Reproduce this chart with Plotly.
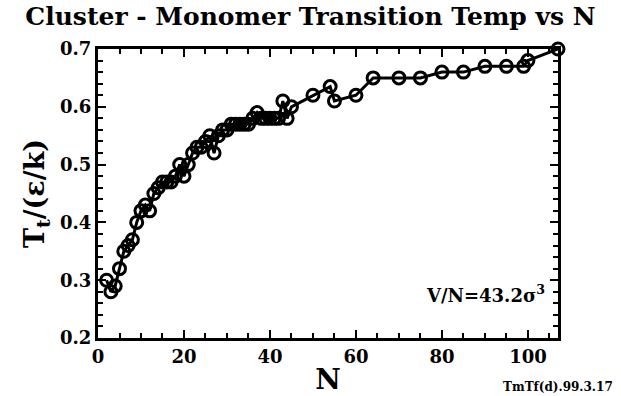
import plotly.graph_objects as go

# Cluster size and cluster-monomer transition temperature
n_atoms = [2, 3, 4, 5, 6, 7, 8, 9, 10, 11, 12, 13, 14, 15, 16, 17, 18, 19, 20,
           21, 22, 23, 24, 25, 26, 27, 28, 29, 30, 31, 32, 33, 34, 35, 36, 37,
           38, 39, 40, 41, 42, 43, 44, 45, 50, 54, 55, 60, 64, 70, 75, 80, 85,
           90, 95, 99, 100, 107]
t_trans = [0.30, 0.28, 0.29, 0.32, 0.35, 0.36, 0.37, 0.40, 0.42, 0.43, 0.42,
           0.45, 0.46, 0.47, 0.47, 0.47, 0.48, 0.50, 0.48, 0.50, 0.52, 0.53,
           0.53, 0.54, 0.55, 0.52, 0.55, 0.56, 0.56, 0.57, 0.57, 0.57, 0.57,
           0.57, 0.58, 0.59, 0.58, 0.58, 0.58, 0.58, 0.58, 0.61, 0.58, 0.60,
           0.62, 0.635, 0.61, 0.62, 0.65, 0.65, 0.65, 0.66, 0.66, 0.67, 0.67,
           0.67, 0.68, 0.70]

x_ticks = [0, 20, 40, 60, 80, 100]
y_ticks = [0.2, 0.3, 0.4, 0.5, 0.6, 0.7]

SERIF = "DejaVu Serif"

fig = go.Figure()
fig.add_trace(go.Scatter(
    x=n_atoms, y=t_trans, mode="lines+markers",
    line=dict(color="black", width=3),
    marker=dict(symbol="circle-open", size=12, color="black",
                line=dict(color="black", width=3)),
    cliponaxis=False, showlegend=False,
))

axis_common = dict(
    showgrid=False, zeroline=False, showline=True, linecolor="black",
    linewidth=3, mirror="allticks", ticks="inside", tickcolor="black",
    tickwidth=2, ticklen=8, automargin=False,
    tickfont=dict(family=SERIF, size=18, color="black", weight="bold"),
)

fig.update_xaxes(
    range=[0, 107], tickvals=x_ticks,
    minor=dict(dtick=5, tick0=0, ticks="inside", ticklen=5, tickwidth=2,
               tickcolor="black"),
    title=dict(text="N", font=dict(family=SERIF, size=28, color="black",
                                    weight="bold"), standoff=8),
    **axis_common,
)
fig.update_yaxes(
    range=[0.2, 0.7], tickvals=y_ticks, tickformat=".1f",
    minor=dict(dtick=0.02, tick0=0.2, ticks="inside", ticklen=5, tickwidth=2,
               tickcolor="black"),
    title=dict(text="T<sub>t</sub>/(ε/k)",
               font=dict(family=SERIF, size=27, color="black", weight="bold"),
               standoff=8),
    **axis_common,
)

fig.add_annotation(
    x=0.975, y=0.152, xref="paper", yref="paper", xanchor="right",
    yanchor="middle", showarrow=False,
    text="V/N=43.2σ<sup>3</sup>",
    font=dict(family=SERIF, size=18, color="black", weight="bold"),
)
fig.add_annotation(
    x=1.0, y=-0.14, xref="paper", yref="paper", xanchor="center",
    yanchor="top", showarrow=False,
    text="TmTf(d).99.3.17",
    font=dict(family=SERIF, size=12, color="black", weight="bold"),
)

fig.update_layout(
    width=621, height=396,
    margin=dict(l=98, r=63, t=49, b=58, autoexpand=False),
    paper_bgcolor="white", plot_bgcolor="white",
    title=dict(text="Cluster - Monomer Transition Temp vs N",
               x=0.5, xanchor="center", y=0.982, yanchor="top",
               automargin=False,
               font=dict(family=SERIF, size=25, color="black",
                         weight="bold")),
)

fig.write_html("out.html")
